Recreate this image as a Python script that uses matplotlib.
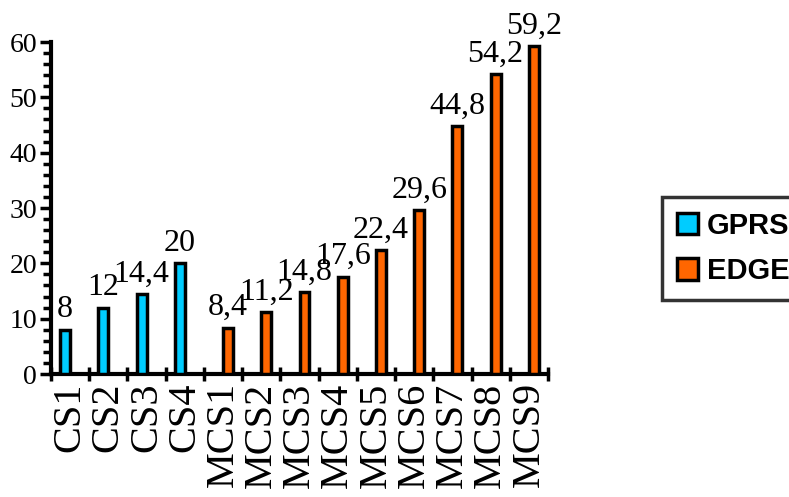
import matplotlib
matplotlib.use("Agg")
import matplotlib.pyplot as plt
import numpy as np
from matplotlib.ticker import MultipleLocator, FixedLocator

categories = ["CS1", "CS2", "CS3", "CS4", "MCS1", "MCS2", "MCS3", "MCS4",
              "MCS5", "MCS6", "MCS7", "MCS8", "MCS9"]
gprs = [8, 12, 14.4, 20, None, None, None, None, None, None, None, None, None]
edge = [None, None, None, None, 8.4, 11.2, 14.8, 17.6, 22.4, 29.6, 44.8, 54.2, 59.2]

series_names = ["GPRS", "EDGE"]
colors = ["#00CCFF", "#FF6600"]

serif = "Liberation Serif"

fig = plt.figure(figsize=(7.89, 4.97), dpi=100)
ax = fig.add_axes([51 / 789, 1 - 374 / 497, (548 - 51) / 789, (374 - 42) / 497])

x = np.arange(len(categories))
w = 0.26
handles = []
for vals, off, col, name in [(gprs, -w / 2, colors[0], series_names[0]),
                             (edge, w / 2, colors[1], series_names[1])]:
    v = np.array([np.nan if a is None else a for a in vals], dtype=float)
    bars = ax.bar(x + off, v, width=w, color=col, edgecolor="black",
                  linewidth=2.5, label=name, zorder=3)
    handles.append(bars)
    for xi, vi in zip(x + off, v):
        if np.isnan(vi):
            continue
        s = ("%g" % vi).replace(".", ",")
        ax.annotate(s, (xi, vi), xytext=(0, 4), textcoords="offset points",
                    ha="center", va="bottom", fontsize=23, family=serif)

ax.set_xlim(-0.5, len(categories) - 0.5)
ax.set_ylim(0, 60)

for side in ["top", "right"]:
    ax.spines[side].set_visible(False)
for side in ["left", "bottom"]:
    ax.spines[side].set_linewidth(3)

ax.yaxis.set_major_locator(MultipleLocator(10))
ax.yaxis.set_minor_locator(MultipleLocator(2))
ax.tick_params(axis="y", which="major", direction="out", length=8, width=2.5,
               labelsize=20, pad=2)
ax.tick_params(axis="y", which="minor", direction="out", length=6, width=2.5)
for lab in ax.get_yticklabels():
    lab.set_family(serif)

ax.set_xticks(x)
ax.set_xticklabels(categories, rotation=90, fontsize=29, family=serif)
ax.xaxis.set_minor_locator(FixedLocator(np.arange(len(categories) + 1) - 0.5))
ax.tick_params(axis="x", which="major", length=0, pad=6)
ax.tick_params(axis="x", which="minor", direction="inout", length=10, width=2.5)

leg = fig.legend(handles=handles, labels=series_names, loc="upper left",
                 bbox_to_anchor=(662 / 789, 1 - 197 / 497),
                 prop={"family": "Liberation Sans", "weight": "bold", "size": 21},
                 frameon=True, fancybox=False, edgecolor="black",
                 handlelength=0.75, handleheight=0.75, handletextpad=0.3,
                 labelspacing=0.6, borderpad=0.5, borderaxespad=0)
leg.get_frame().set_linewidth(2.5)

fig.savefig("out.png", dpi=100, facecolor="white")
